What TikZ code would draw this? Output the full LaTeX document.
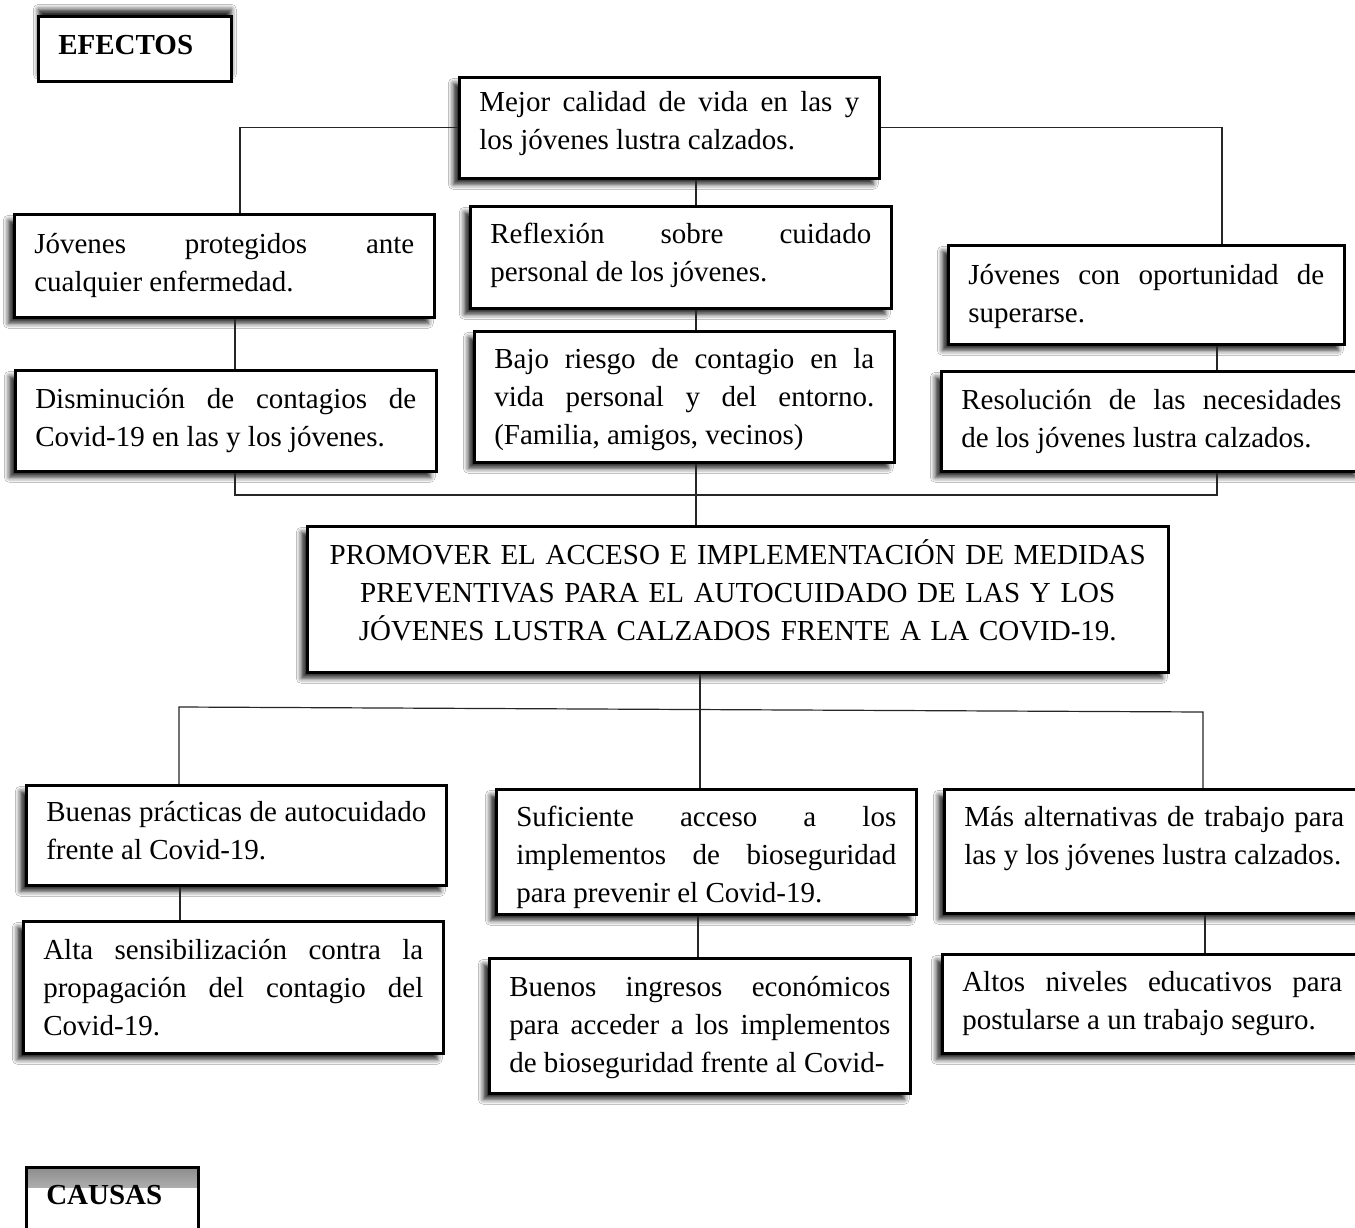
\documentclass[tikz,border=0pt]{standalone}
\usepackage{fontspec}
\setmainfont{Liberation Serif}
\usetikzlibrary{shadows.blur}
\tolerance=10000 \hbadness=10000
\hyphenpenalty=10000 \exhyphenpenalty=10000
\begin{document}
\begin{tikzpicture}[x=1pt,y=-1pt,
    caja/.style={draw=black,line width=2.6pt,fill=white,anchor=north west,
      inner xsep=20pt,inner ysep=0pt,align=justify,
      font=\fontsize{29}{38}\selectfont},
    sombra/.style={blur shadow={shadow xshift=-6pt,shadow yshift=-6pt,
      shadow blur radius=5pt,shadow opacity=85}},
    titulo/.style={caja,font=\bfseries\fontsize{29}{38}\selectfont,align=left},
    enlace/.style={line width=1.2pt,draw=black!85}]
    \fill[white] (0,0) rectangle (1355,1228);
    \useasboundingbox (0,0) rectangle (1355,1228);
    \clip (0,0) rectangle (1355,1228);
    % columnas de los conectores
    \coordinate (xa) at (240,0); \coordinate (xb) at (1222,0);
    \coordinate (xc) at (235,0); \coordinate (xd) at (1217,0);
    \coordinate (xm) at (696,0); \coordinate (xn) at (700,0);
    \coordinate (xf) at (180,0); \coordinate (xg) at (1205,0); \coordinate (xh) at (698,0);
    \coordinate (fork) at (696,495);
    \coordinate (jl) at (179,707); \coordinate (jr) at (1203,712);

    % efectos
    \node[titulo,text width=153pt,text height=38pt,text depth=27pt,
      blur shadow={shadow xshift=0pt,shadow yshift=7pt,shadow blur radius=5pt,shadow opacity=85}]
      (efectos) at (37,15) {EFECTOS};
    \node[caja,sombra,text width=380pt,text height=34pt,text depth=67pt] (mejor) at (458,76)
      {Mejor calidad de vida en las y\linebreak los jóvenes lustra calzados.};
    \node[caja,sombra,text width=380pt,text height=39pt,text depth=64pt] (prot) at (13,213)
      {Jóvenes protegidos ante\linebreak cualquier enfermedad.};
    \node[caja,sombra,text width=381pt,text height=38pt,text depth=63pt] (dism) at (14,369)
      {Disminución de contagios de\linebreak Covid-19 en las y los jóvenes.};
    \node[caja,sombra,text width=381pt,text height=37pt,text depth=65pt] (refl) at (469,205)
      {Reflexión sobre cuidado\linebreak personal de los jóvenes.};
    \node[caja,sombra,text width=380pt,text height=37pt,text depth=94pt] (bajo) at (473,330)
      {Bajo riesgo de contagio en la\linebreak vida personal y del entorno.\linebreak (Familia, amigos, vecinos)};
    \node[caja,sombra,text width=356pt,text height=39pt,text depth=60pt] (opo) at (947,244)
      {Jóvenes con oportunidad de\linebreak superarse.};
    \node[caja,sombra,text width=380pt,text height=38pt,text depth=62pt] (resol) at (940,370)
      {Resolución de las necesidades\linebreak de los jóvenes lustra calzados.};

    \draw[enlace] (mejor.west) -| (prot.north -| xa);
    \draw[enlace] (mejor.east) -| (opo.north -| xb);
    \draw[enlace] (mejor.south -| xm) -- (refl.north -| xm);
    \draw[enlace] (refl.south -| xm) -- (bajo.north -| xm);
    \draw[enlace] (prot.south -| xc) -- (dism.north -| xc);
    \draw[enlace] (opo.south -| xd) -- (resol.north -| xd);
    \draw[enlace] (dism.south -| xc) |- (fork) -| (resol.south -| xd);

    % problema central
    \node[caja,sombra,align=center,text width=821pt,text height=38pt,text depth=108pt] (meta) at (306,525)
      {PROMOVER EL ACCESO E IMPLEMENTACIÓN DE MEDIDAS\\ PREVENTIVAS PARA EL AUTOCUIDADO DE LAS Y LOS\\ JÓVENES LUSTRA CALZADOS FRENTE A LA COVID-19.};
    \draw[enlace] (bajo.south -| xm) -- (meta.north -| xm);

    % causas
    \node[caja,sombra,text width=380pt,text height=36pt,text depth=64pt] (buenas) at (25,784)
      {Buenas prácticas de autocuidado\linebreak frente al Covid-19.};
    \node[caja,sombra,text width=380pt,text height=38pt,text depth=94pt] (alta) at (22,920)
      {Alta sensibilización contra la\linebreak propagación del contagio del\linebreak Covid-19.};
    \node[caja,sombra,text width=380pt,text height=37pt,text depth=88pt] (sufi) at (495,788)
      {Suficiente acceso a los\linebreak implementos de bioseguridad\linebreak para prevenir el Covid-19.};
    \node[caja,sombra,text width=381pt,text height=38pt,text depth=97pt] (buenos) at (488,957)
      {Buenos ingresos económicos\linebreak para acceder a los implementos\linebreak de bioseguridad frente al Covid-};
    \node[caja,sombra,text width=380pt,text height=37pt,text depth=87pt] (mas) at (943,788)
      {Más alternativas de trabajo para\linebreak las y los jóvenes lustra calzados.};
    \node[caja,sombra,text width=380pt,text height=37pt,text depth=62pt] (altos) at (941,953)
      {Altos niveles educativos para\linebreak postularse a un trabajo seguro.};

    \draw[enlace] (meta.south -| xn) -- (sufi.north -| xn);
    \draw[enlace] (buenas.north -| jl) -- (jl) -- (jr) -- (mas.north -| jr);
    \draw[enlace] (buenas.south -| xf) -- (alta.north -| xf);
    \draw[enlace] (sufi.south -| xh) -- (buenos.north -| xh);
    \draw[enlace] (mas.south -| xg) -- (altos.north -| xg);

    \node[titulo,text width=132pt,text height=37pt,text depth=33pt,
      path picture={\shade[top color=black!45,bottom color=white]
        (path picture bounding box.north west) rectangle ([yshift=-20pt]path picture bounding box.north east);}]
      (causas) at (25,1166) {CAUSAS};
\end{tikzpicture}
\end{document}
